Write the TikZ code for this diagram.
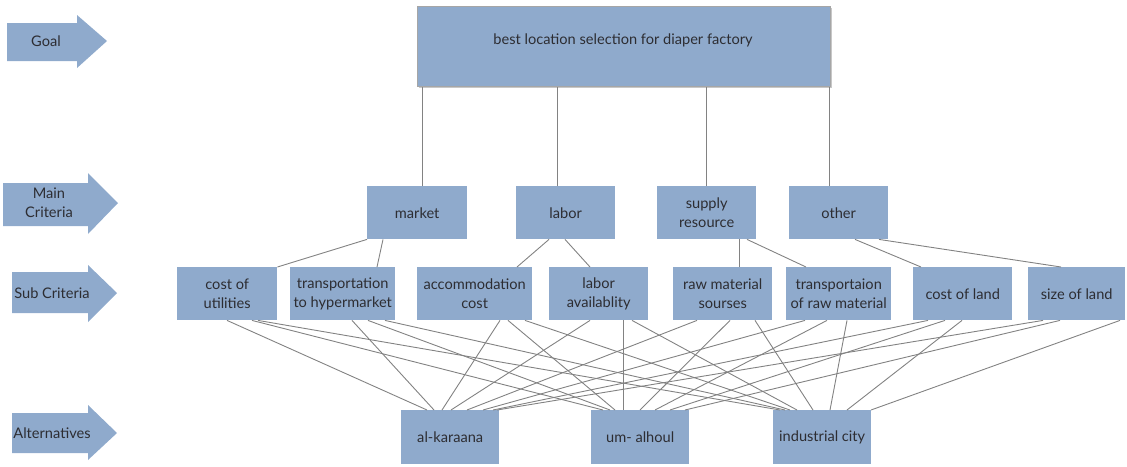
\documentclass[tikz,border=0pt]{standalone}
\usepackage{fontspec}
\setmainfont{Lato}
\definecolor{boxblue}{RGB}{143,170,204}
\definecolor{txt}{RGB}{45,45,50}
\definecolor{conn}{RGB}{130,130,130}
\begin{document}
\begin{tikzpicture}[x=1pt,y=-1pt,
  every node/.style={font=\fontsize{14.6}{19}\selectfont, text=txt},
  bx/.style={fill=boxblue, inner sep=0pt, align=center, anchor=north west},
  cn/.style={draw=conn, line width=0.9pt},
  arr/.style={fill=boxblue}]
\useasboundingbox (0,0) rectangle (1127,466);
% level arrows
\fill[arr] (7,23) -- (77,23) -- (77,15) -- (107,41) -- (77,68) -- (77,61) -- (7,61) -- cycle;
\node (lgoal) at (46,41) {Goal};
\fill[arr] (3,183) -- (88,183) -- (88,173) -- (118,203) -- (88,234) -- (88,226) -- (3,226) -- cycle;
\node[align=center] (lmain) at (49,203) {Main\\Criteria};
\fill[arr] (12,272) -- (88,272) -- (88,265) -- (117,293) -- (88,322) -- (88,313) -- (12,313) -- cycle;
\node (lsub) at (52,293) {Sub Criteria};
\fill[arr] (12,413) -- (88,413) -- (88,405) -- (117,433) -- (88,460) -- (88,453) -- (12,453) -- cycle;
\node (lalt) at (52,433) {Alternatives};
% goal box
\fill[black!22] (419,8) rectangle (832,88);
\node[bx, draw=black!35, line width=0.5pt, minimum width=413pt, minimum height=80pt] (goal) at (417,6) {};
\node at (623,40) {best location selection for diaper factory};
% main criteria
\node[bx, minimum width=100pt, minimum height=53pt] (mk) at (367,186) {market};
\node[bx, minimum width=99pt, minimum height=53pt] (lb) at (516,186) {labor};
\node[bx, minimum width=99pt, minimum height=53pt] (sp) at (657,186) {supply\\resource};
\node[bx, minimum width=99pt, minimum height=53pt] (ot) at (789,186) {other};
% sub criteria
\node[bx, minimum width=100pt, minimum height=53pt] (cu) at (177,267) {cost of\\utilities};
\node[bx, minimum width=105pt, minimum height=53pt] (th) at (290,267) {transportation\\to hypermarket};
\node[bx, minimum width=115pt, minimum height=53pt] (ac) at (417,267) {accommodation\\cost};
\node[bx, minimum width=99pt, minimum height=53pt] (la) at (549,267) {labor\\availablity};
\node[bx, minimum width=99pt, minimum height=53pt] (rm) at (673,267) {raw material\\sourses};
\node[bx, minimum width=105pt, minimum height=53pt] (tr) at (786,267) {transportaion\\of raw material};
\node[bx, minimum width=99pt, minimum height=53pt] (cl) at (913,267) {cost of land};
\node[bx, minimum width=97pt, minimum height=53pt] (sl) at (1028,267) {size of land};
% alternatives
\node[bx, minimum width=98pt, minimum height=54pt] (ak) at (401,410) {al-karaana};
\node[bx, minimum width=98pt, minimum height=54pt] (ua) at (591,410) {um- alhoul};
\node[bx, minimum width=98pt, minimum height=54pt] (ic) at (773,410) {industrial city};
% goal -> main
\foreach \n/\d in {mk/55, lb/41, sp/49, ot/40}
  \draw[cn] ([xshift=\d pt]\n.north west) -- ([xshift=\d pt]\n.north west |- goal.south);
% main -> sub
\draw[cn] (mk.south west) -- (cu.north east);
\draw[cn] ([xshift=16pt]mk.south west) -- ([xshift=87pt]th.north west);
\draw[cn] ([xshift=33pt]lb.south west) -- ([xshift=100pt]ac.north west);
\draw[cn] ([xshift=49pt]lb.south west) -- ([xshift=41pt]la.north west);
\draw[cn] ([xshift=82pt]sp.south west) -- ([xshift=66pt]rm.north west);
\draw[cn] ([xshift=90pt]sp.south west) -- ([xshift=20pt]tr.north west);
\draw[cn] ([xshift=66pt]ot.south west) -- ([xshift=8pt]cl.north west);
\draw[cn] ([xshift=90pt]ot.south west) -- ([xshift=33pt]sl.north west);
% sub -> alternatives
\foreach \s/\a/\b/\c/\p/\q/\r in {
  cu/50/75/81/26/12/7,
  th/62/78/95/33/19/12,
  ac/83/91/108/41/24/17,
  la/41/74/83/50/32/24,
  rm/24/57/82/66/49/40,
  tr/19/41/61/82/64/57,
  cl/15/32/49/92/79/74,
  sl/15/32/92/96/94/98}{
  \draw[cn] ([xshift=\a pt]\s.south west) -- ([xshift=\p pt]ak.north west);
  \draw[cn] ([xshift=\b pt]\s.south west) -- ([xshift=\q pt]ua.north west);
  \draw[cn] ([xshift=\c pt]\s.south west) -- ([xshift=\r pt]ic.north west);
}
\end{tikzpicture}
\end{document}
